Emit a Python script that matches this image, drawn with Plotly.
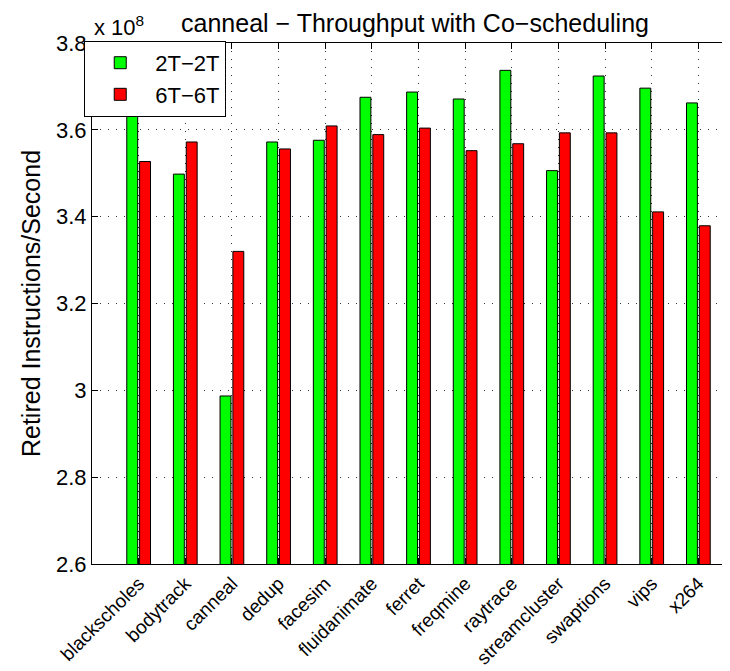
import plotly.graph_objects as go

categories = ["blackscholes", "bodytrack", "canneal", "dedup", "facesim", "fluidanimate",
              "ferret", "freqmine", "raytrace", "streamcluster", "swaptions", "vips", "x264"]
series_2t = [3.700, 3.498, 2.987, 3.572, 3.576, 3.675, 3.687, 3.671, 3.737, 3.506, 3.724, 3.696, 3.662]
series_6t = [3.527, 3.572, 3.320, 3.556, 3.609, 3.589, 3.604, 3.552, 3.568, 3.593, 3.593, 3.411, 3.379]
y_ticks = [2.6, 2.8, 3.0, 3.2, 3.4, 3.6, 3.8]
y_ticktext = ["2.6", "2.8", "3", "3.2", "3.4", "3.6", "3.8"]

xpos = list(range(1, len(categories) + 1))
FONT = "Liberation Sans, Arial, Helvetica, sans-serif"
GRID = dict(showgrid=True, gridcolor="#333333", griddash="1px,7px", gridwidth=1)

fig = go.Figure()
fig.add_trace(go.Bar(x=xpos, y=series_2t, name="2T\u22122T",
                     marker=dict(color="#00FF00", line=dict(color="black", width=1))))
fig.add_trace(go.Bar(x=xpos, y=series_6t, name="6T\u22126T",
                     marker=dict(color="#FF0000", line=dict(color="black", width=1))))

fig.update_layout(
    width=730, height=671,
    margin=dict(l=84, r=0, t=35, b=115),
    paper_bgcolor="white", plot_bgcolor="white",
    barmode="group", bargap=0.45, bargroupgap=0.15,
    font=dict(family=FONT, size=20, color="black"),
    title=dict(text="canneal \u2212 Throughput with Co\u2212scheduling", x=0.5, xref="paper",
               xanchor="center", y=0.978, yanchor="middle", font=dict(size=25)),
    showlegend=True,
    legend=dict(x=-0.012, y=1.004, xanchor="left", yanchor="top", bgcolor="white",
                bordercolor="black", borderwidth=1, font=dict(size=22),
                itemwidth=60, tracegroupgap=0),
    xaxis=dict(range=[0, 13.85], tickmode="array", tickvals=xpos, ticktext=categories,
               tickangle=-45, ticks="inside", ticklen=6, tickcolor="black",
               showline=True, linecolor="black", linewidth=1, mirror="ticks",
               tickfont=dict(size=19), automargin=False, zeroline=False, **GRID),
    yaxis=dict(range=[2.6, 3.8], tickmode="array", tickvals=y_ticks, ticktext=y_ticktext,
               ticks="inside", ticklen=6, tickcolor="black",
               showline=True, linecolor="black", linewidth=1, mirror="ticks",
               tickfont=dict(size=22), automargin=False, zeroline=False, **GRID,
               title=dict(text="Retired Instructions/Second", font=dict(size=25), standoff=8)),
)
fig.add_annotation(text="x 10<sup>8</sup>", xref="paper", yref="paper", x=0, y=1,
                   xanchor="left", yanchor="bottom", showarrow=False,
                   font=dict(size=22), yshift=1)

fig.write_html("out.html")
